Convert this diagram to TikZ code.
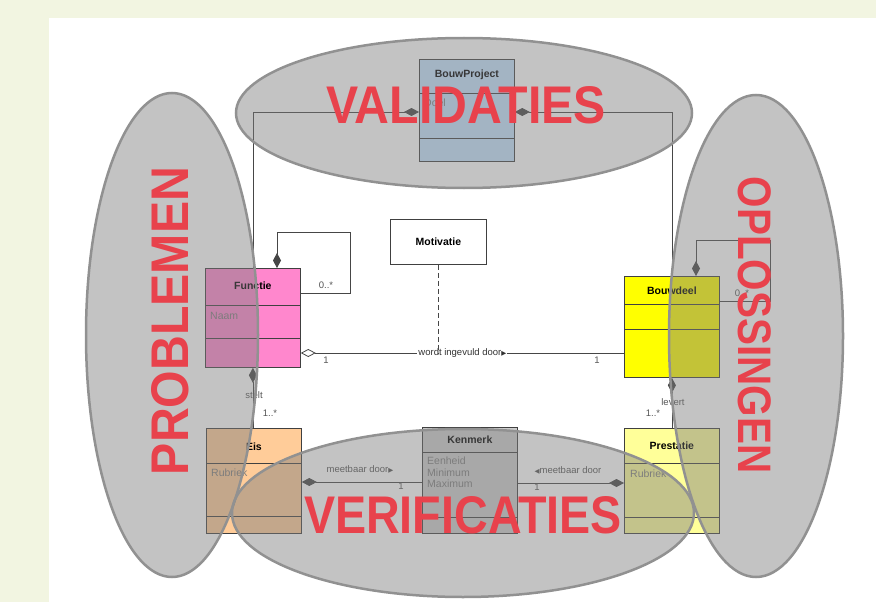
\documentclass[tikz,border=0pt]{standalone}
\usepackage{fontspec}
\setmainfont{Liberation Sans}
\newfontfamily\symfont{DejaVu Sans}
\usetikzlibrary{arrows.meta,calc}

\definecolor{framebg}{RGB}{242,245,225}
\definecolor{boxline}{RGB}{64,64,64}
\definecolor{linkline}{RGB}{70,70,70}
\definecolor{lblgray}{RGB}{85,85,85}
\definecolor{attrgray}{RGB}{125,125,125}
\definecolor{projblue}{RGB}{196,226,255}
\definecolor{funcpink}{RGB}{255,135,205}
\definecolor{partyellow}{RGB}{255,255,0}
\definecolor{reqorange}{RGB}{255,204,153}
\definecolor{perfyellow}{RGB}{255,255,153}
\definecolor{propgray}{RGB}{205,205,205}
\definecolor{zonefill}{RGB}{124,124,124}
\definecolor{zoneedge}{RGB}{145,145,145}
\definecolor{zonered}{RGB}{232,66,76}

\newcommand{\rtri}{{\symfont\fontsize{6.5}{7}\selectfont ▶}}
\newcommand{\ltri}{{\symfont\fontsize{6.5}{7}\selectfont ◀}}

\tikzset{
  classbox/.style={draw=boxline, line width=0.8pt, inner sep=0pt, minimum width=95pt, anchor=north west},
  divider/.style={draw=boxline, line width=0.8pt},
  ctitle/.style={font=\fontsize{10.5}{12}\selectfont\bfseries, inner sep=0pt, text=black},
  cattr/.style={font=\fontsize{10.5}{11.5}\selectfont, inner sep=0pt, anchor=west, text=attrgray, align=left},
  link/.style={draw=linkline, line width=0.8pt},
  comp/.style={link, {Diamond[length=15pt,width=8pt,fill=linkline]}-},
  aggr/.style={link, {Diamond[length=15pt,width=8pt,open,fill=white]}-},
  lbl/.style={font=\fontsize{9.5}{11}\selectfont, inner sep=0pt, text=lblgray},
  zone/.style={fill=zonefill, fill opacity=0.45, draw=zoneedge, line width=2.5pt},
  zonetext/.style={font=\fontsize{53}{53}\selectfont\bfseries, text=zonered, inner sep=0pt}
}

\begin{document}
\begin{tikzpicture}[x=1pt,y=-1pt]
  % page frame
  \useasboundingbox (0,0) rectangle (876,602);
  \fill[framebg] (0,0) rectangle (876,602);
  \fill[white] (49,18) rectangle (876,602);

  % class boxes
  \node[classbox, fill=projblue, minimum height=102pt] (bp) at (419,59) {};
  \draw[divider] ($(bp.north west)+(0,34)$) -- ($(bp.north east)+(0,34)$);
  \draw[divider] ($(bp.north west)+(0,79)$) -- ($(bp.north east)+(0,79)$);
  \node[ctitle] (bp-t) at ($(bp.north)+(0,16)$) {BouwProject};
  \node[cattr] (bp-a) at ($(bp.north west)+(5,44)$) {Doel};

  \node[classbox, fill=funcpink, minimum height=99pt] (fn) at (205,268) {};
  \draw[divider] ($(fn.north west)+(0,37)$) -- ($(fn.north east)+(0,37)$);
  \draw[divider] ($(fn.north west)+(0,70)$) -- ($(fn.north east)+(0,70)$);
  \node[ctitle] (fn-t) at ($(fn.north)+(0,18)$) {Functie};
  \node[cattr] (fn-a) at ($(fn.north west)+(5,48)$) {Naam};

  \node[classbox, fill=partyellow, minimum height=101pt] (bd) at (624,276) {};
  \draw[divider] ($(bd.north west)+(0,28)$) -- ($(bd.north east)+(0,28)$);
  \draw[divider] ($(bd.north west)+(0,53)$) -- ($(bd.north east)+(0,53)$);
  \node[ctitle] (bd-t) at ($(bd.north)+(0,15)$) {Bouwdeel};

  \node[classbox, fill=white, minimum width=96pt, minimum height=45pt] (mo) at (390,219) {};
  \node[ctitle] (mo-t) at (mo.center) {Motivatie};

  \node[classbox, fill=reqorange, minimum height=105pt] (eis) at (206,428) {};
  \draw[divider] ($(eis.north west)+(0,35)$) -- ($(eis.north east)+(0,35)$);
  \draw[divider] ($(eis.north west)+(0,88)$) -- ($(eis.north east)+(0,88)$);
  \node[ctitle] (eis-t) at ($(eis.north)+(0,19)$) {Eis};
  \node[cattr] (eis-a) at ($(eis.north west)+(5,45)$) {Rubriek};

  \node[classbox, fill=propgray, minimum height=106pt] (km) at (422,427) {};
  \draw[divider] ($(km.north west)+(0,25)$) -- ($(km.north east)+(0,25)$);
  \draw[divider] ($(km.north west)+(0,90)$) -- ($(km.north east)+(0,90)$);
  \node[ctitle] (km-t) at ($(km.north)+(0,13)$) {Kenmerk};
  \node[cattr, anchor=north west, font=\fontsize{10.5}{11.5}\selectfont] (km-a) at ($(km.north west)+(5,30)$) {Eenheid\\Minimum\\Maximum};

  \node[classbox, fill=perfyellow, minimum height=105pt] (pr) at (624,428) {};
  \draw[divider] ($(pr.north west)+(0,35)$) -- ($(pr.north east)+(0,35)$);
  \draw[divider] ($(pr.north west)+(0,89)$) -- ($(pr.north east)+(0,89)$);
  \node[ctitle] (pr-t) at ($(pr.north)+(0,18)$) {Prestatie};
  \node[cattr] (pr-a) at ($(pr.north west)+(6,46)$) {Rubriek};

  % associations
  \draw[comp] ($(bp.north west)+(0,53)$) -| (fn.north);
  \draw[comp] ($(bp.north east)+(0,53)$) -| (bd.north);

  \draw[comp] ($(fn.north west)+(72,0)$) -- ++(0,-36) -| ($(fn.north east)+(50,25)$) -- ($(fn.north east)+(0,25)$);
  \node[lbl] (fn-m) at (326,285) {0..*};

  \draw[comp] ($(bd.north west)+(72,0)$) -- ++(0,-36) -| ($(bd.north east)+(51,25)$) -- ($(bd.north east)+(0,25)$);
  \node[lbl] (bd-m) at (742,293) {0..*};

  \draw[aggr] ($(fn.north east)+(0,85)$) -- ($(bd.north west)+(0,77)$)
    node[midway, fill=white, inner sep=1pt, text=black!80, font=\fontsize{9.5}{11}\selectfont] (ingevuld) {wordt ingevuld door\rtri};
  \node[lbl] (fn-1) at (326,360) {1};
  \node[lbl] (bd-1) at (597,360) {1};
  \draw[link, dash pattern=on 5pt off 3pt] (mo.south) -- ($(mo.south)+(0,89)$);

  \draw[comp] (fn.south) -- (fn.south |- eis.north);
  \node[lbl] (stelt) at (254,395) {stelt};
  \node[lbl] (stelt-m) at (270,413) {1..*};

  \draw[comp] (bd.south) -- (bd.south |- pr.north);
  \node[lbl] (levert) at (673,402) {levert};
  \node[lbl] (levert-m) at (653,413) {1..*};

  \draw[comp] ($(eis.north east)+(0,54)$) -- ($(km.north west)+(0,55)$);
  \node[lbl] (eis-km) at (360,469) {meetbaar door\rtri};
  \node[lbl] (eis-km-1) at (401,486.5) {1};

  \draw[comp] ($(pr.north west)+(0,55)$) -- ($(km.north east)+(0,56)$);
  \node[lbl] (pr-km) at (568,470) {\ltri meetbaar door};
  \node[lbl] (pr-km-1) at (537,487) {1};

  % translucent zones
  \path[zone] (464,113) ellipse [x radius=228, y radius=75];
  \path[zone] (172,335) ellipse [x radius=86, y radius=242];
  \path[zone] (756,336) ellipse [x radius=87, y radius=241];
  \path[zone] (463,513) ellipse [x radius=231, y radius=84];

  % zone captions
  \node[zonetext] (validaties) at (466,105) {\scalebox{0.91}[1]{VALIDATIES}};
  \node[zonetext] (verificaties) at (463,515) {\scalebox{0.88}[1]{VERIFICATIES}};
  \node[zonetext, rotate=90] (problemen) at (170,321) {\scalebox{0.91}[1]{PROBLEMEN}};
  \node[zonetext, rotate=-90, font=\fontsize{47}{47}\selectfont\bfseries] (oplossingen) at (755,325) {\scalebox{0.86}[1]{OPLOSSINGEN}};
\end{tikzpicture}
\end{document}
